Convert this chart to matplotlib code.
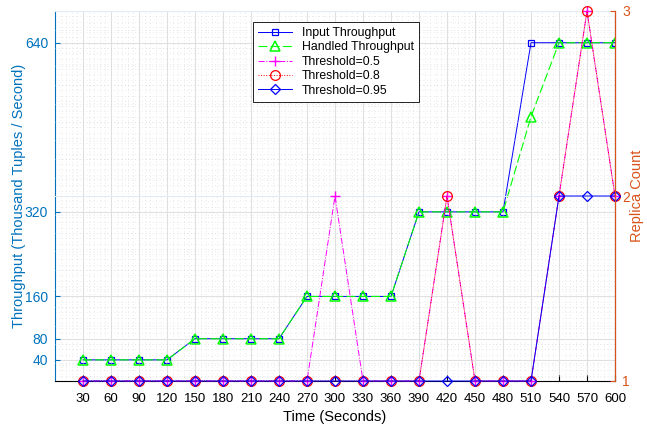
import matplotlib.pyplot as plt
from matplotlib.ticker import MultipleLocator

plt.rcParams['font.family'] = ['Liberation Sans', 'DejaVu Sans']

time_s = [30, 60, 90, 120, 150, 180, 210, 240, 270, 300, 330, 360, 390, 420,
          450, 480, 510, 540, 570, 600]
input_tp = [40, 40, 40, 40, 80, 80, 80, 80, 160, 160, 160, 160, 320, 320,
            320, 320, 640, 640, 640, 640]
handled_tp = [40, 40, 40, 40, 80, 80, 80, 80, 160, 160, 160, 160, 320, 320,
              320, 320, 500, 640, 640, 640]
rep_05 = [1, 1, 1, 1, 1, 1, 1, 1, 1, 2, 1, 1, 1, 2, 1, 1, 1, 2, 3, 2]
rep_08 = [1, 1, 1, 1, 1, 1, 1, 1, 1, 1, 1, 1, 1, 2, 1, 1, 1, 2, 3, 2]
rep_095 = [1, 1, 1, 1, 1, 1, 1, 1, 1, 1, 1, 1, 1, 1, 1, 1, 1, 2, 2, 2]
left_ticks = [40, 80, 160, 320, 640]

LEFT_C = '#0072BD'
RIGHT_C = '#D95319'

fig = plt.figure(figsize=(6.47, 4.29), dpi=100)
ax = fig.add_axes([55 / 647, 48 / 429, 560 / 647, 370 / 429])
ax2 = ax.twinx()

# left axis: throughput
l1, = ax.plot(time_s, input_tp, '-', color='#0000ff', lw=0.7, marker='s', ms=5,
              mfc='none', mec='#0000ff', mew=0.9, label='Input Throughput')
l2, = ax.plot(time_s, handled_tp, '--', color='#00ff00', lw=0.8, marker='^', ms=7,
              mfc='none', mec='#00ff00', mew=1.1, dashes=(8, 3), label='Handled Throughput')

# right axis: replica count
l3, = ax2.plot(time_s, rep_05, '-.', color='#ff00ff', lw=0.7, marker='+', ms=7,
               mew=1.0, label='Threshold=0.5', clip_on=False)
l4, = ax2.plot(time_s, rep_08, ':', color='#ff0000', lw=0.7, marker='o', ms=7,
               mfc='none', mew=0.9, label='Threshold=0.8', clip_on=False)
l5, = ax2.plot(time_s, rep_095, '-', color='#0000ff', lw=0.7, marker='D', ms=5.5,
               mfc='none', mew=0.9, label='Threshold=0.95', clip_on=False)

ax.set_xlim(0, 600)
ax.set_ylim(0, 700)
ax2.set_ylim(1, 3)

ax.set_xticks(time_s)
ax.set_yticks(left_ticks)
ax2.set_yticks([1, 2, 3])
ax.xaxis.set_minor_locator(MultipleLocator(6))
ax.yaxis.set_minor_locator(MultipleLocator(10))
ax2.yaxis.set_minor_locator(MultipleLocator(0.1))

ax.grid(True, which='major', color='#e0e0e0', lw=0.8)
ax.grid(True, which='minor', color='#d4d4d4', lw=0.5, ls=(0, (1, 4)))
ax2.grid(True, which='minor', axis='y', color='#c6d8e6', lw=0.5, ls=(0, (1, 4)))
ax2.grid(True, which='major', axis='y', color='#e4ecf2', lw=0.8)
ax.set_axisbelow(True)

ax.tick_params(axis='both', which='both', direction='in', labelsize=9.5)
ax.tick_params(which='minor', length=0)
ax2.tick_params(which='minor', length=0)
ax.tick_params(axis='y', colors=LEFT_C, labelsize=10, pad=5)
ax.tick_params(axis='x', colors='black', length=4, pad=9)
ax2.tick_params(axis='y', direction='in', colors=RIGHT_C, labelsize=10, pad=5)

for a in (ax, ax2):
    a.spines['top'].set_visible(False)
ax.spines['left'].set_color(LEFT_C)
ax2.spines['left'].set_visible(False)
ax2.spines['right'].set_color(RIGHT_C)
ax2.spines['bottom'].set_visible(False)

ax.set_xlabel('Time (Seconds)', fontsize=10.5, labelpad=3)
ax.set_ylabel('Throughput (Thousand Tuples / Second)', color=LEFT_C, fontsize=10.5)
ax2.set_ylabel('Replica Count', color=RIGHT_C, fontsize=10.5)
ax.yaxis.set_label_coords(-0.052, 0.5)
ax2.yaxis.set_label_coords(1.027, 0.5)

leg = ax2.legend(handles=[l1, l2, l3, l4, l5], loc='upper left',
                 bbox_to_anchor=(0.354, 0.97), fontsize=8.8, frameon=True,
                 fancybox=False, edgecolor='black', framealpha=1,
                 handlelength=2.8, borderaxespad=0, labelspacing=0.2,
                 borderpad=0.4)
leg.get_frame().set_linewidth(0.6)

fig.savefig('out.png', dpi=100)
